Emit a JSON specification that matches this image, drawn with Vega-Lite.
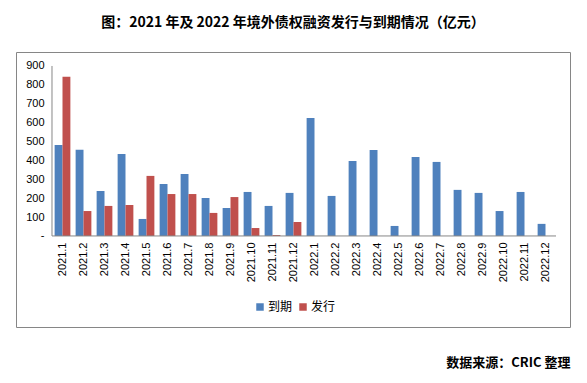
{
 "$schema": "https://vega.github.io/schema/vega-lite/v6.json",
 "width": 554, "height": 275,
 "autosize": {"type": "none"},
 "padding": {"left": 16, "top": 52, "right": 17, "bottom": 56},
 "background": "white",
 "title": {"text": "图：2021 年及 2022 年境外债权融资发行与到期情况（亿元）", "font": "Noto Sans CJK SC", "fontSize": 14, "fontWeight": "bold", "anchor": "middle", "offset": 22, "color": "black"},
 "config": {"view": {"stroke": "#868686", "strokeWidth": 1}, "axis": {"labelOverlap": false}},
 "data": {"values": [
  {"month": "2021.1", "series": "到期", "value": 482}, {"month": "2021.1", "series": "发行", "value": 843},
  {"month": "2021.2", "series": "到期", "value": 457}, {"month": "2021.2", "series": "发行", "value": 132},
  {"month": "2021.3", "series": "到期", "value": 238}, {"month": "2021.3", "series": "发行", "value": 159},
  {"month": "2021.4", "series": "到期", "value": 434}, {"month": "2021.4", "series": "发行", "value": 164},
  {"month": "2021.5", "series": "到期", "value": 90}, {"month": "2021.5", "series": "发行", "value": 318},
  {"month": "2021.6", "series": "到期", "value": 275}, {"month": "2021.6", "series": "发行", "value": 222},
  {"month": "2021.7", "series": "到期", "value": 328}, {"month": "2021.7", "series": "发行", "value": 222},
  {"month": "2021.8", "series": "到期", "value": 201}, {"month": "2021.8", "series": "发行", "value": 122},
  {"month": "2021.9", "series": "到期", "value": 148}, {"month": "2021.9", "series": "发行", "value": 206},
  {"month": "2021.10", "series": "到期", "value": 233}, {"month": "2021.10", "series": "发行", "value": 42},
  {"month": "2021.11", "series": "到期", "value": 159}, {"month": "2021.11", "series": "发行", "value": 5},
  {"month": "2021.12", "series": "到期", "value": 228}, {"month": "2021.12", "series": "发行", "value": 74},
  {"month": "2022.1", "series": "到期", "value": 625},
  {"month": "2022.2", "series": "到期", "value": 212},
  {"month": "2022.3", "series": "到期", "value": 397},
  {"month": "2022.4", "series": "到期", "value": 455},
  {"month": "2022.5", "series": "到期", "value": 53},
  {"month": "2022.6", "series": "到期", "value": 418},
  {"month": "2022.7", "series": "到期", "value": 392},
  {"month": "2022.8", "series": "到期", "value": 244},
  {"month": "2022.9", "series": "到期", "value": 228},
  {"month": "2022.10", "series": "到期", "value": 132},
  {"month": "2022.11", "series": "到期", "value": 233},
  {"month": "2022.12", "series": "到期", "value": 64}
 ]},
 "layer": [
  {
   "mark": {"type": "bar"},
   "encoding": {
    "x": {"field": "month", "type": "nominal", "sort": null,
     "scale": {"domain": ["2021.1","2021.2","2021.3","2021.4","2021.5","2021.6","2021.7","2021.8","2021.9","2021.10","2021.11","2021.12","2022.1","2022.2","2022.3","2022.4","2022.5","2022.6","2022.7","2022.8","2022.9","2022.10","2022.11","2022.12"], "range": [36, 540], "paddingInner": 0.25, "paddingOuter": 0.125},
     "axis": {"title": "数据来源：CRIC 整理", "titleFont": "Noto Sans CJK SC", "titleFontSize": 13, "titleFontWeight": "bold", "titleColor": "black", "titleX": 554, "titleY": 126, "titleAlign": "right", "titleBaseline": "middle", "titleAnchor": null,
      "offset": -91, "domain": false, "ticks": false, "labelAngle": 270, "labelPadding": 6, "labelFont": "Liberation Sans", "labelFontSize": 11, "labelColor": "black", "grid": false, "labelOverlap": false}},
    "xOffset": {"field": "series", "type": "nominal", "scale": {"domain": ["到期", "发行"], "paddingInner": 0, "paddingOuter": 0}},
    "y": {"field": "value", "type": "quantitative",
     "scale": {"domain": [-482, 974], "nice": false, "zero": false},
     "axis": {"title": null, "offset": -36, "domain": false, "ticks": false, "grid": false, "values": [0,100,200,300,400,500,600,700,800,900], "tickCount": 20, "labelOverlap": false, "labelExpr": "datum.value == 0 ? '-' : datum.label", "labelPadding": 8, "labelFont": "Liberation Sans", "labelFontSize": 11, "labelColor": "black"}},
    "color": {"field": "series", "type": "nominal", "scale": {"domain": ["到期", "发行"], "range": ["#4F81BD", "#C0504D"]},
     "legend": {"title": null, "orient": "none", "legendX": 238, "legendY": 249, "direction": "horizontal", "symbolType": "square", "symbolSize": 56, "symbolStrokeWidth": 0, "labelFont": "Noto Sans CJK SC", "labelFontSize": 12, "labelColor": "black", "labelOffset": 2, "columnPadding": 4, "padding": 0}}
   }
  },
  {
   "data": {"values": [{"a": 1}]},
   "mark": {"type": "rule", "color": "#868686", "strokeWidth": 1},
   "encoding": {"x": {"datum": "2021.1", "bandPosition": -0.1667}, "y": {"datum": 0}, "y2": {"datum": 900}}
  },
  {
   "data": {"values": [{"a": 1}]},
   "mark": {"type": "rule", "color": "#868686", "strokeWidth": 1},
   "encoding": {"x": {"datum": "2021.1", "bandPosition": -0.1667}, "x2": {"datum": "2022.12", "bandPosition": 1.1667}, "y": {"datum": 0}}
  }
 ]
}
